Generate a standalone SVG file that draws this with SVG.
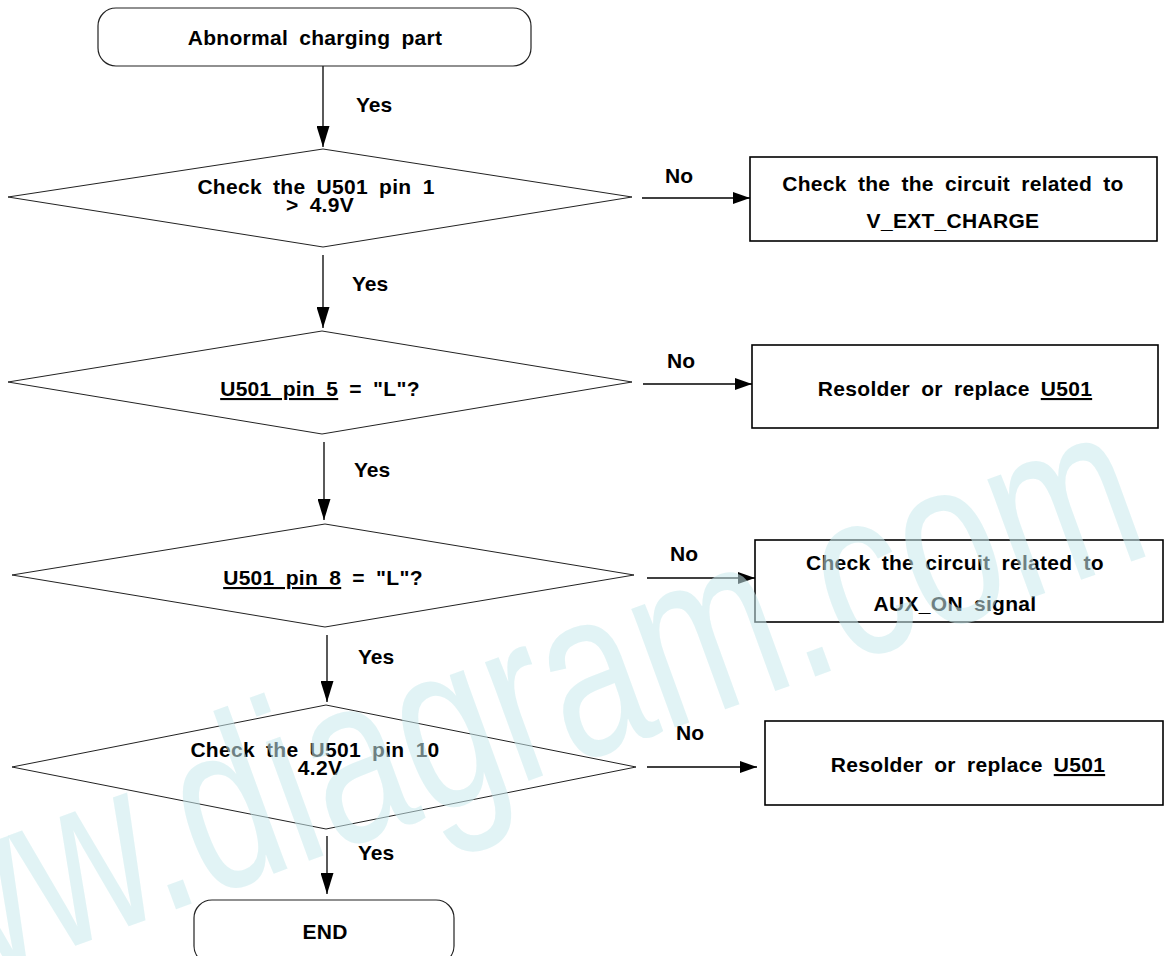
<svg xmlns="http://www.w3.org/2000/svg" width="1164" height="956" viewBox="0 0 1164 956">
<style>
  .t { font-family: 'Liberation Sans', Arial, sans-serif; font-size: 21px; font-weight: bold; fill: #000; text-anchor: middle; word-spacing: 5px; letter-spacing: 0.3px; }
  .lbl { font-family: 'Liberation Sans', Arial, sans-serif; font-size: 21px; font-weight: bold; fill: #000; }
  .term { fill: #fff; stroke: #222; stroke-width: 1.2; }
  .dia { fill: #fff; stroke: #222; stroke-width: 1; }
  .box { fill: #fff; stroke: #000; stroke-width: 1.6; }
  .con { stroke: #000; stroke-width: 1.3; fill: none; }
  .v { marker-end: url(#av); }
  .h { marker-end: url(#ah); }
  .u { text-decoration: underline; }
  .wm { font-family: 'Liberation Sans', Arial, sans-serif; font-size: 165px; fill: rgb(200,233,237); fill-opacity: 0.55; }
</style>
<defs>
  <marker id="av" markerUnits="userSpaceOnUse" markerWidth="21" markerHeight="13" refX="21" refY="6.5" orient="auto">
    <path d="M0,0 L21,6.5 L0,13 z" fill="#000"/>
  </marker>
  <marker id="ah" markerUnits="userSpaceOnUse" markerWidth="17" markerHeight="12" refX="17" refY="6" orient="auto">
    <path d="M0,0 L17,6 L0,12 z" fill="#000"/>
  </marker>
</defs>
<rect width="1164" height="956" fill="#fff"/>

<g id="connectors">
  <line class="con v" x1="323" y1="66" x2="323" y2="147"/>
  <line class="con h" x1="642" y1="198" x2="750" y2="198"/>
  <line class="con v" x1="323" y1="255" x2="323" y2="328"/>
  <line class="con h" x1="643" y1="384" x2="752" y2="384"/>
  <line class="con v" x1="324" y1="442" x2="324" y2="520"/>
  <line class="con h" x1="647" y1="578" x2="755" y2="578"/>
  <line class="con v" x1="327" y1="635" x2="327" y2="702"/>
  <line class="con h" x1="647" y1="767" x2="757" y2="767"/>
  <line class="con v" x1="327" y1="836" x2="327" y2="894"/>
  <text class="lbl" x="356" y="112">Yes</text>
  <text class="lbl" x="352" y="291">Yes</text>
  <text class="lbl" x="354" y="477">Yes</text>
  <text class="lbl" x="358" y="664">Yes</text>
  <text class="lbl" x="358" y="860">Yes</text>
  <text class="lbl" x="665" y="183">No</text>
  <text class="lbl" x="667" y="368">No</text>
  <text class="lbl" x="670" y="561">No</text>
  <text class="lbl" x="676" y="740">No</text>
</g>

<g id="start">
  <rect class="term" x="98" y="8" width="433" height="58" rx="18"/>
  <text class="t" x="315" y="45">Abnormal charging part</text>
</g>

<g id="d1">
  <polygon class="dia" points="8,197 323,149 632,197 323,247"/>
  <text class="t" x="316" y="194">Check the U501 pin 1</text>
  <text class="t" x="320" y="212">&gt; 4.9V</text>
</g>
<g id="b1">
  <rect class="box" x="750" y="157" width="407" height="84"/>
  <text class="t" x="953" y="191">Check the the circuit related to</text>
  <text class="t" x="953" y="228">V_EXT_CHARGE</text>
</g>

<g id="d2">
  <polygon class="dia" points="8,382 322,331 632,382 322,434"/>
  <text class="t" x="320" y="396"><tspan class="u">U501 pin 5</tspan> = "L"?</text>
</g>
<g id="b2">
  <rect class="box" x="752" y="345" width="406" height="83"/>
  <text class="t" x="955" y="396">Resolder or replace <tspan class="u">U501</tspan></text>
</g>

<g id="d3">
  <polygon class="dia" points="12,575 325,524 634,575 325,627"/>
  <text class="t" x="323" y="585"><tspan class="u">U501 pin 8</tspan> = "L"?</text>
</g>
<g id="b3">
  <rect class="box" x="755" y="540" width="408" height="82"/>
  <text class="t" x="955" y="570">Check the circuit related to</text>
  <text class="t" x="955" y="611">AUX_ON signal</text>
</g>

<g id="d4">
  <polygon class="dia" points="12,767 326,705 636,767 326,829"/>
  <text class="t" x="315" y="757">Check the U501 pin 10</text>
  <text class="t" x="320" y="775">4.2V</text>
</g>
<g id="b4">
  <rect class="box" x="765" y="721" width="398" height="84"/>
  <text class="t" x="968" y="772">Resolder or replace <tspan class="u">U501</tspan></text>
</g>

<g id="end">
  <rect class="term" x="194" y="900" width="260" height="64" rx="18"/>
  <text class="t" x="325" y="939">END</text>
</g>

<text class="wm" x="0" y="0" transform="translate(-186,1041) rotate(-20) scale(1.06,1.45)">www.diagram.com</text>
</svg>
